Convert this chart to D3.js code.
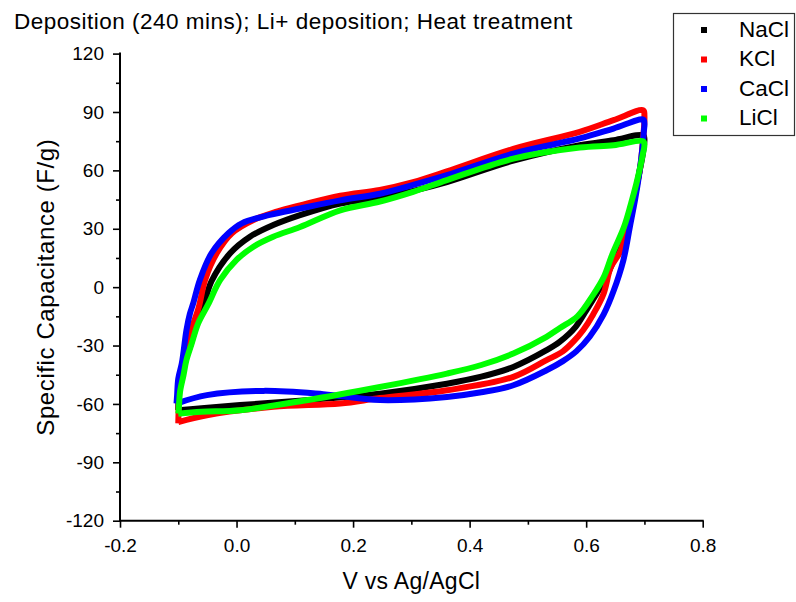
<!DOCTYPE html>
<html>
<head>
<meta charset="utf-8">
<script src="https://cdn.jsdelivr.net/npm/d3@7"></script>
<style>
  body { margin: 0; background: #fff; }
  text { font-family: "Liberation Sans", Arial, sans-serif; fill: #000; }
</style>
</head>
<body>
<svg id="chart" width="796" height="602"></svg>
<script>
// CV loops: forward (upper) scan from -0.1 V to 0.7 V, then reverse (lower) scan back
const naclV = [-0.100, -0.099, -0.094, -0.087, -0.080, -0.066, -0.057, -0.043, -0.011, 0.023, 0.063, 0.109, 0.178, 0.246, 0.303, 0.361, 0.475, 0.589, 0.647, 0.698,
  0.700, 0.697, 0.692, 0.685, 0.677, 0.668, 0.647, 0.633, 0.618, 0.598, 0.582, 0.555, 0.532, 0.475, 0.420, 0.361, 0.246, 0.120, 0.006, -0.060, -0.100];
const naclC = [-63.2, -55, -42.7, -36, -30.7, -17, -10, 3, 17.4, 25.9, 31.9, 37, 43, 46, 49.5, 54, 65, 72.9, 75.5, 78,
  76, 68, 60, 50, 40, 29, 13.8, 4, -3.3, -13, -20.4, -28, -32.4, -41, -46, -49.6, -54.7, -58.1, -60.6, -62.2, -63.2];

const kclV = [-0.100, -0.099, -0.097, -0.088, -0.080, -0.065, -0.054, -0.034, -0.008, 0.029, 0.069, 0.109, 0.178, 0.246, 0.303, 0.361, 0.475, 0.589, 0.647, 0.698,
  0.700, 0.697, 0.693, 0.687, 0.679, 0.671, 0.658, 0.642, 0.630, 0.612, 0.595, 0.578, 0.560, 0.532, 0.475, 0.361, 0.246, 0.178, 0.063, -0.051, -0.100];
const kclC = [-70, -60, -48, -34, -24, -10.5, 3.7, 17.4, 27.7, 34.5, 38.8, 42, 47, 50, 54, 59.5, 71, 79.8, 85.8, 90.9,
  88, 74, 62, 52, 40, 30, 18, 10, -3.3, -14, -22, -28, -33, -37.5, -46.1, -53, -57, -59.8, -61.5, -65.8, -69.3];

const caclV = [-0.103, -0.102, -0.100, -0.094, -0.091, -0.086, -0.080, -0.074, -0.063, -0.043, -0.014, 0.009, 0.057, 0.109, 0.178, 0.246, 0.303, 0.361, 0.475, 0.589, 0.647, 0.698,
  0.700, 0.699, 0.696, 0.691, 0.684, 0.675, 0.664, 0.647, 0.630, 0.606, 0.583, 0.560, 0.532, 0.475, 0.420, 0.361, 0.246, 0.149, 0.046, -0.051, -0.103];
const caclC = [-59.8, -55.5, -47, -39.3, -33.3, -22.1, -13.6, -8, 3.7, 17.4, 27.7, 32.8, 37.1, 40.4, 44.6, 48, 52.5, 57.5, 68.6, 76.4, 81.5, 86.1,
  84, 80, 70, 58, 45, 31, 14, -2, -14, -25.5, -33, -38, -42.7, -50.4, -54, -56.4, -58, -55, -53.3, -55.5, -59.8];

const liclV = [-0.100, -0.099, -0.097, -0.091, -0.086, -0.077, -0.066, -0.049, -0.028, 0.000, 0.029, 0.063, 0.109, 0.178, 0.246, 0.303, 0.361, 0.475, 0.589, 0.647, 0.698,
  0.700, 0.697, 0.693, 0.686, 0.677, 0.665, 0.645, 0.630, 0.612, 0.585, 0.555, 0.532, 0.475, 0.420, 0.361, 0.246, 0.120, 0.006, -0.060, -0.100];
const liclC = [-65, -62, -53.8, -45.2, -37.5, -29, -18.7, -9, 3.7, 14, 20.8, 25.9, 30.9, 39.5, 44, 49, 55, 66, 71.7, 72.9, 75,
  73, 68, 62, 53, 43, 31, 17, 5, -4, -15, -21, -25.5, -34.1, -40, -44.4, -51.3, -58.1, -63.2, -64, -65];

const seriesNames = ["NaCl", "KCl", "CaCl", "LiCl"];
const seriesColors = ["#000000", "#ff0000", "#0000ff", "#00ff00"];
const seriesV = [naclV, kclV, caclV, liclV];
const seriesC = [naclC, kclC, caclC, liclC];

const xTicks = [-0.2, 0.0, 0.2, 0.4, 0.6, 0.8];
const xMinor = [-0.1, 0.1, 0.3, 0.5, 0.7];
const yTicks = [-120, -90, -60, -30, 0, 30, 60, 90, 120];
const yMinor = [-105, -75, -45, -15, 15, 45, 75, 105];

const titleText = "Deposition (240 mins); Li+ deposition; Heat treatment";
const xTitle = "V vs Ag/AgCl";
const yTitle = "Specific Capacitance (F/g)";

const svg = d3.select("#chart");
const plotLeft = 120, plotRight = 702.7, plotTop = 53.6, plotBottom = 520.7;

const x = d3.scaleLinear().domain([-0.2, 0.8]).range([plotLeft, plotRight]);
const y = d3.scaleLinear().domain([-120, 120]).range([plotBottom, plotTop]);

// plain hyphen for negatives, like the original
const locale = d3.formatLocale({ decimal: ".", thousands: ",", grouping: [3], currency: ["", ""], minus: "-" });

// series, drawn in legend order so LiCl sits on top
const line = d3.line()
  .x((d) => x(d[0]))
  .y((d) => y(d[1]))
  .curve(d3.curveCatmullRom.alpha(0.5));

seriesNames.forEach((name, i) => {
  const pts = seriesV[i].map((v, j) => [v, seriesC[i][j]]);
  svg.append("path")
    .datum(pts)
    .attr("d", line)
    .attr("fill", "none")
    .attr("stroke", seriesColors[i])
    .attr("stroke-width", 6)
    .attr("stroke-linejoin", "round");
});

// axes
const xAxis = svg.append("g").attr("transform", `translate(0,${plotBottom})`);
xAxis.append("g")
  .call(d3.axisBottom(x).tickValues(xTicks).tickFormat(locale.format(".1f")).tickSize(7).tickPadding(11))
  .call((g) => g.select(".domain").remove());
xAxis.append("g")
  .call(d3.axisBottom(x).tickValues(xMinor).tickFormat("").tickSize(4))
  .call((g) => g.select(".domain").remove());
xAxis.append("line")
  .attr("x1", plotLeft - 1).attr("x2", plotRight + 1)
  .attr("stroke", "#000").attr("stroke-width", 2);

const yAxis = svg.append("g").attr("transform", `translate(${plotLeft},0)`);
yAxis.append("g")
  .call(d3.axisLeft(y).tickValues(yTicks).tickFormat(locale.format("d")).tickSize(7).tickPadding(9))
  .call((g) => g.select(".domain").remove());
yAxis.append("g")
  .call(d3.axisLeft(y).tickValues(yMinor).tickFormat("").tickSize(4))
  .call((g) => g.select(".domain").remove());
yAxis.append("line")
  .attr("y1", plotTop - 1).attr("y2", plotBottom + 1)
  .attr("stroke", "#000").attr("stroke-width", 2);

svg.selectAll(".tick line").attr("stroke", "#000").attr("stroke-width", 1.6);
svg.selectAll(".tick text").attr("font-size", 19).attr("fill", "#000")
  .attr("font-family", "Liberation Sans, Arial, sans-serif");

// titles
svg.append("text")
  .attr("x", 14).attr("y", 29)
  .attr("font-size", 22.5)
  .attr("letter-spacing", 0.5)
  .text(titleText);

svg.append("text")
  .attr("x", (plotLeft + plotRight) / 2).attr("y", 589)
  .attr("text-anchor", "middle")
  .attr("font-size", 23)
  .attr("letter-spacing", 0.3)
  .text(xTitle);

svg.append("text")
  .attr("transform", `translate(54,${(plotTop + plotBottom) / 2}) rotate(-90)`)
  .attr("text-anchor", "middle")
  .attr("font-size", 24)
  .attr("letter-spacing", 0.6)
  .text(yTitle);

// legend
const legend = svg.append("g");
legend.append("rect")
  .attr("x", 673.5).attr("y", 13.5)
  .attr("width", 121).attr("height", 122)
  .attr("fill", "#fff")
  .attr("stroke", "#333").attr("stroke-width", 1.2);

seriesNames.forEach((name, i) => {
  const cy = 30 + i * 29.5;
  legend.append("rect")
    .attr("x", 701).attr("y", cy - 3)
    .attr("width", 6).attr("height", 6)
    .attr("fill", seriesColors[i]);
  legend.append("text")
    .attr("x", 739).attr("y", cy + 6.5)
    .attr("font-size", 22.5)
    .text(name);
});
</script>
</body>
</html>
